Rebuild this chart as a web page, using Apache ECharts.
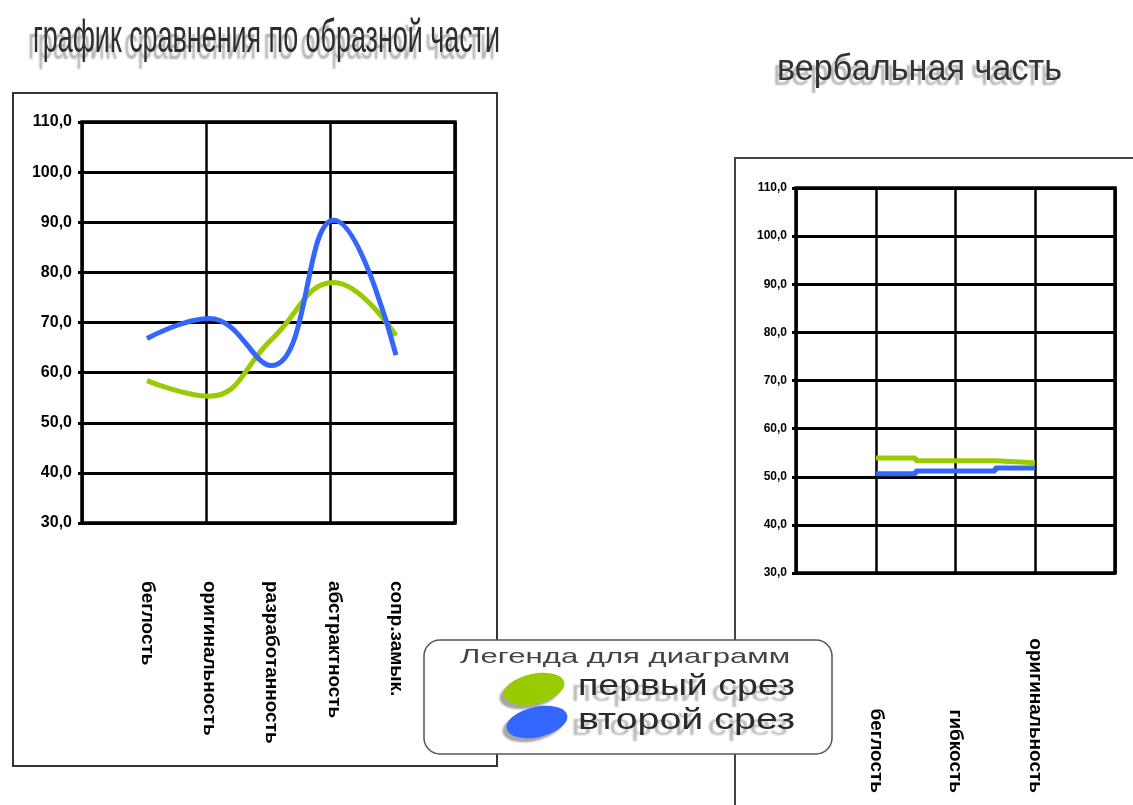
<!DOCTYPE html>
<html>
<head>
<meta charset="utf-8">
<script src="https://cdn.jsdelivr.net/npm/echarts@6/dist/echarts.min.js"></script>
<style>
  html, body { margin: 0; padding: 0; background: #fff; }
  #chart { width: 1133px; height: 805px; }
</style>
</head>
<body>
<div id="chart"></div>
<script>
// Образная часть: пять показателей, два среза
const figCategories = ['беглость', 'оригинальность', 'разработанность', 'абстрактность', 'сопр.замык.'];
const figFirst  = [58.4, 55.3, 66.6, 78.0, 67.4];
const figSecond = [66.8, 70.8, 61.4, 90.4, 63.5];

// Вербальная часть: три показателя, два среза
const verbCategories = ['беглость', 'гибкость', 'оригинальность'];
const verbFirst  = [53.9, 53.3, 52.9];
const verbSecond = [50.6, 51.2, 51.8];

const seriesNames = ['первый срез', 'второй срез'];
const scaleMin = 30, scaleMax = 110, scaleStep = 10;

const SANS = '"Liberation Sans", Arial, sans-serif';
const GREEN = '#99CC00';
const BLUE = '#3366FF';
const seriesColors = [GREEN, BLUE];

const fmt = v => v.toFixed(1).replace('.', ',');

// Horizontal squeeze/stretch factor so a caption spans a given width
const measureCtx = document.createElement('canvas').getContext('2d');
function fitScale(text, font, width) {
  measureCtx.font = font;
  return width / measureCtx.measureText(text).width;
}

// Frame grid (background cells) for a panel
function frameAxes(gridIndex, cols, labelSize, labelMargin) {
  return {
    x: {
      type: 'value', gridIndex, min: 0, max: cols, interval: 1,
      axisLabel: { show: false }, axisLine: { show: false }, axisTick: { show: false },
      splitLine: { show: true, lineStyle: { color: '#000', width: 2.5 } }
    },
    y: {
      type: 'value', gridIndex, min: scaleMin, max: scaleMax, interval: scaleStep,
      axisLine: { show: false },
      axisTick: { show: true, length: 4, lineStyle: { color: '#000', width: 3 } },
      axisLabel: {
        formatter: fmt, color: '#000', fontFamily: SANS, fontWeight: 'bold',
        fontSize: labelSize, margin: labelMargin
      },
      splitLine: { show: true, lineStyle: { color: '#000', width: 3 } }
    }
  };
}

// Category axis carrying the curves and their rotated labels
function curveAxes(gridIndex, cats, align, margin) {
  return {
    x: {
      type: 'category', gridIndex, data: cats, boundaryGap: false,
      axisLine: { show: false }, axisTick: { show: false }, splitLine: { show: false },
      axisLabel: {
        interval: 0, rotate: -90, align, verticalAlign: 'middle', margin,
        color: '#000', fontFamily: SANS, fontWeight: 'bold', fontSize: 19
      }
    },
    y: { type: 'value', gridIndex, min: scaleMin, max: scaleMax, show: false }
  };
}

const f0 = frameAxes(0, 3, 16, 10);
const c1 = curveAxes(1, figCategories, 'left', 58);
const f2 = frameAxes(2, 4, 12, 9);
const c3 = curveAxes(3, verbCategories, 'right', 220);

function lineSeries(name, data, color, axisIdx, extra) {
  return Object.assign({
    name, type: 'line', data, xAxisIndex: axisIdx, yAxisIndex: axisIdx,
    symbol: 'none', color,
    lineStyle: { color, width: 5 },
    itemStyle: { color },
    emphasis: { disabled: true }, silent: true
  }, extra);
}

// Captions
const titleMain = 'график сравнения по образной части';
const titleVerb = 'вербальная часть';
const legendCaption = 'Легенда для диаграмм';

function caption(text, font, x, y, width, fill, shadow) {
  return {
    type: 'text', z: 6, silent: true, x, y,
    scaleX: fitScale(text, font, width), scaleY: 1,
    style: Object.assign({ text, font, fill, verticalAlign: 'top', align: 'left' }, shadow || {})
  };
}

const textShade = { textShadowColor: 'rgba(0,0,0,0.28)', textShadowBlur: 2, textShadowOffsetX: -7, textShadowOffsetY: 6 };

// Legend block: rounded box, heading, one oval marker + name per series
const legendFont = '30px ' + SANS;
const legendRows = seriesNames.map((name, i) => [
  {
    type: 'ellipse', z: 7, silent: true,
    x: 534 + 3 * i, y: 689 + 33 * i, rotation: 0.22,
    shape: { cx: 0, cy: 0, rx: 31, ry: 15 },
    style: { fill: seriesColors[i], shadowColor: 'rgba(0,0,0,0.35)', shadowBlur: 2, shadowOffsetX: -4, shadowOffsetY: 4 }
  },
  caption(name, legendFont, 578, 672 + 34 * i, 217, '#2a2a2a', textShade)
]).flat();

const chart = echarts.init(document.getElementById('chart'), null, { renderer: 'canvas' });

chart.setOption({
  animation: false,
  backgroundColor: '#fff',
  grid: [
    { left: 82, top: 122, width: 373, height: 401, show: true, borderColor: '#000', borderWidth: 3.5, backgroundColor: 'transparent' },
    { left: 147, top: 122, width: 249, height: 401 },
    { left: 796, top: 188, width: 319, height: 385, show: true, borderColor: '#000', borderWidth: 3.5, backgroundColor: 'transparent' },
    { left: 876, top: 188, width: 159, height: 385 }
  ],
  xAxis: [f0.x, c1.x, f2.x, c3.x],
  yAxis: [f0.y, c1.y, f2.y, c3.y],
  graphic: [
    { type: 'rect', z: 1, silent: true, shape: { x: 13, y: 93, width: 484, height: 673 },
      style: { fill: 'none', stroke: '#333', lineWidth: 2 } },
    { type: 'rect', z: 1, silent: true, shape: { x: 735, y: 158, width: 440, height: 700 },
      style: { fill: 'none', stroke: '#444', lineWidth: 2 } },
    { type: 'rect', z: 5, silent: true, shape: { x: 424, y: 640, width: 408, height: 114, r: 16 },
      style: { fill: '#fff', stroke: '#555', lineWidth: 1.5 } },
    caption(titleMain, '46px ' + SANS, 33, 16, 467, '#2e2e2e',
      { textShadowColor: 'rgba(0,0,0,0.33)', textShadowBlur: 2, textShadowOffsetX: -5, textShadowOffsetY: 7 }),
    caption(titleVerb, '36px ' + SANS, 777, 52, 285, '#333',
      { textShadowColor: 'rgba(0,0,0,0.3)', textShadowBlur: 2, textShadowOffsetX: -4, textShadowOffsetY: 5 }),
    caption(legendCaption, '21px ' + SANS, 460, 647, 330, '#444')
  ].concat(legendRows),
  series: [
    lineSeries(seriesNames[0], figFirst, GREEN, 1, { smooth: 0.45 }),
    lineSeries(seriesNames[1], figSecond, BLUE, 1, { smooth: 0.45 }),
    lineSeries(seriesNames[0], verbFirst, GREEN, 3, { step: 'middle' }),
    lineSeries(seriesNames[1], verbSecond, BLUE, 3, { step: 'middle' })
  ]
});
</script>
</body>
</html>
